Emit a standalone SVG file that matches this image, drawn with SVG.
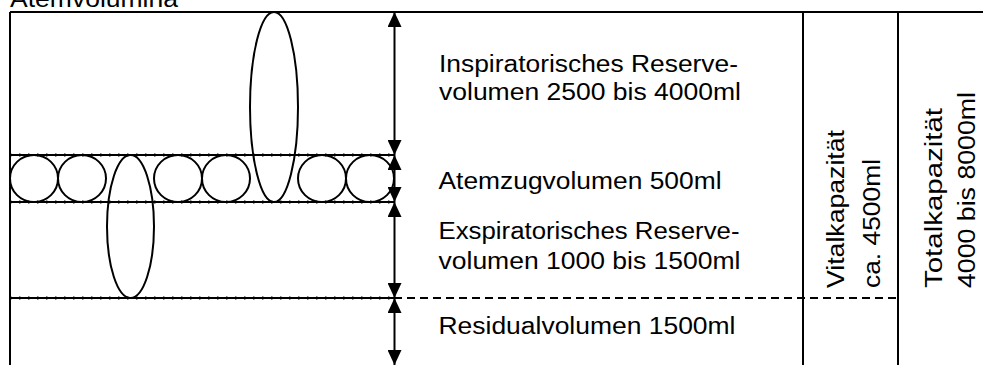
<svg xmlns="http://www.w3.org/2000/svg" width="983" height="365" viewBox="0 0 983 365">
<defs>
<style>
.ln{stroke:#000;stroke-width:2;fill:none}
.tk{stroke:#000;stroke-width:3;stroke-dasharray:1.5 7.5;fill:none}
.ds{stroke:#000;stroke-width:2;stroke-dasharray:8 5;fill:none}
.sh{stroke:#000;stroke-width:2;fill:none}
.t{font-family:"Liberation Sans",Arial,sans-serif;font-size:23.5px;fill:#000}
.ar{stroke:#000;stroke-width:2;fill:none;marker-start:url(#a);marker-end:url(#a)}
</style>
<marker id="a" markerUnits="userSpaceOnUse" viewBox="0 0 15 14" refX="15" refY="7" markerWidth="15" markerHeight="14" orient="auto-start-reverse">
<path d="M0,0 L15,7 L0,14 Z" fill="#000"/>
</marker>
</defs>
<g id="frame">
<line class="ln" x1="10" y1="12" x2="983" y2="12"/>
<line class="ln" x1="10" y1="12" x2="10" y2="365"/>
<line class="ln" x1="803" y1="12" x2="803" y2="365"/>
<line class="ln" x1="898" y1="12" x2="898" y2="365"/>
</g>
<g id="levels">
<line class="ln" x1="10" y1="155" x2="394" y2="155"/>
<line class="tk" x1="10" y1="155" x2="394" y2="155"/>
<line class="ln" x1="10" y1="202" x2="394" y2="202"/>
<line class="tk" x1="10" y1="202" x2="394" y2="202"/>
<line class="ln" x1="10" y1="298" x2="394" y2="298"/>
<line class="tk" x1="10" y1="298" x2="394" y2="298"/>
<line class="ds" x1="394" y1="298" x2="898" y2="298"/>
</g>
<g id="breaths">
<ellipse class="sh" cx="34" cy="178.5" rx="24" ry="23.5"/>
<ellipse class="sh" cx="82" cy="178.5" rx="24" ry="23.5"/>
<ellipse class="sh" cx="178" cy="178.5" rx="24" ry="23.5"/>
<ellipse class="sh" cx="226" cy="178.5" rx="24" ry="23.5"/>
<ellipse class="sh" cx="322" cy="178.5" rx="24" ry="23.5"/>
<ellipse class="sh" cx="370" cy="178.5" rx="24" ry="23.5"/>
<ellipse class="sh" cx="274" cy="107" rx="24" ry="95"/>
<ellipse class="sh" cx="130.5" cy="226.5" rx="23.5" ry="71.5"/>
</g>
<g id="connectors">
<line class="ar" x1="394.5" y1="12" x2="394.5" y2="155"/>
<line class="ar" x1="394.5" y1="155" x2="394.5" y2="202"/>
<line class="ar" x1="394.5" y1="202" x2="394.5" y2="298"/>
<line class="ar" x1="394.5" y1="298" x2="394.5" y2="365"/>
</g>
<g id="title"><text class="t" x="10" y="7" textLength="168" lengthAdjust="spacingAndGlyphs">Atemvolumina</text></g>
<g id="irv">
<text class="t" x="439" y="71.5" textLength="299" lengthAdjust="spacingAndGlyphs">Inspiratorisches Reserve-</text>
<text class="t" x="439" y="100" textLength="302" lengthAdjust="spacingAndGlyphs">volumen 2500 bis 4000ml</text>
</g>
<g id="tv"><text class="t" x="438.5" y="188.5" textLength="283" lengthAdjust="spacingAndGlyphs">Atemzugvolumen 500ml</text></g>
<g id="erv">
<text class="t" x="438.5" y="238.5" textLength="301" lengthAdjust="spacingAndGlyphs">Exspiratorisches Reserve-</text>
<text class="t" x="438.5" y="268.5" textLength="302" lengthAdjust="spacingAndGlyphs">volumen 1000 bis 1500ml</text>
</g>
<g id="rv"><text class="t" x="438.5" y="333.5" textLength="297" lengthAdjust="spacingAndGlyphs">Residualvolumen 1500ml</text></g>
<g id="vc">
<text class="t" transform="translate(844,288) rotate(-90)" x="0" y="0" textLength="158" lengthAdjust="spacingAndGlyphs">Vitalkapazität</text>
<text class="t" transform="translate(880,288) rotate(-90)" x="0" y="0" textLength="129" lengthAdjust="spacingAndGlyphs">ca. 4500ml</text>
</g>
<g id="tlc">
<text class="t" transform="translate(942,288) rotate(-90)" x="0" y="0" textLength="180" lengthAdjust="spacingAndGlyphs">Totalkapazität</text>
<text class="t" transform="translate(975,288) rotate(-90)" x="0" y="0" textLength="196" lengthAdjust="spacingAndGlyphs">4000 bis 8000ml</text>
</g>
</svg>
